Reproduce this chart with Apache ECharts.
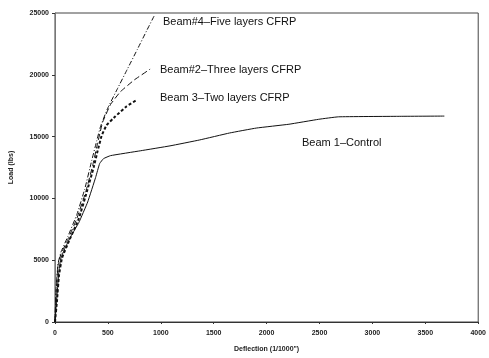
<!DOCTYPE html>
<html>
<head>
<meta charset="utf-8">
<script src="https://cdn.jsdelivr.net/npm/echarts@6/dist/echarts.min.js"></script>
<style>
  html, body { margin: 0; padding: 0; background: #fff; }
  #chart { width: 489px; height: 358px; }
</style>
</head>
<body>
<div id="chart"></div>
<script>
// deflection (1/1000") and load (lbs)
const beam1 = [
  [0, 0], [19, 2150], [37, 4140], [56, 5175], [94, 5970], [150, 6930],
  [225, 8040], [309, 9710], [384, 11700], [422, 12820], [459, 13220],
  [525, 13460], [806, 13850], [1087, 14250], [1368, 14730], [1649, 15290],
  [1902, 15690], [2211, 16000], [2492, 16400], [2679, 16600], [3241, 16640],
  [3680, 16660],
];
const beam3 = [
  [0, 0], [19, 1750], [37, 3740], [66, 5175], [131, 6530], [225, 8360],
  [300, 10510], [365, 12500], [403, 13850], [440, 15050], [487, 15920],
  [571, 16640], [675, 17440], [778, 17990],
];
const beam2 = [
  [0, 0], [9, 2150], [28, 4540], [56, 5490], [122, 6690], [206, 8360],
  [290, 10510], [356, 12660], [403, 14490], [450, 16160], [525, 17600],
  [618, 18630], [750, 19590], [899, 20460],
];
const beam4 = [
  [0, 0], [9, 2550], [28, 4700], [56, 5650], [122, 6930], [206, 8680],
  [281, 10750], [347, 13060], [394, 14650], [431, 15840], [497, 17280],
  [590, 18870], [684, 20460], [778, 22050], [871, 23650], [937, 24760],
];
const seriesNames = [
  "Beam 1\u2013Control",
  "Beam 3\u2013Two layers CFRP",
  "Beam#2\u2013Three layers CFRP",
  "Beam#4\u2013Five layers CFRP",
];

const chart = echarts.init(document.getElementById("chart"));

const tickFont = {
  fontFamily: "Liberation Sans",
  fontSize: 7,
  fontWeight: "bold",
  color: "#222",
};
const labelFont = {
  fontFamily: "Liberation Sans",
  fontSize: 11,
  fill: "#111",
};

const option = {
  animation: false,
  backgroundColor: "#fff",
  grid: {
    left: 54,
    right: 8,
    top: 13,
    bottom: 31,
    show: true,
    borderColor: "#444",
    borderWidth: 1,
  },
  xAxis: {
    type: "value",
    min: 0,
    max: 4000,
    interval: 500,
    name: "Deflection (1/1000\")",
    nameLocation: "middle",
    nameGap: 24,
    nameTextStyle: { ...tickFont },
    axisLine: { lineStyle: { color: "#333", width: 1 } },
    axisTick: { show: true, length: 2, lineStyle: { color: "#333" } },
    axisLabel: { ...tickFont, margin: 8, formatter: (v) => String(v) },
    splitLine: { show: false },
  },
  yAxis: {
    type: "value",
    min: 0,
    max: 25000,
    interval: 5000,
    name: "Load (lbs)",
    nameLocation: "middle",
    nameGap: 40,
    nameTextStyle: { ...tickFont },
    axisLine: { show: true, lineStyle: { color: "#777", width: 1 } },
    axisTick: { show: true, length: 3, lineStyle: { color: "#333" } },
    axisLabel: { ...tickFont, margin: 6, formatter: (v) => String(v) },
    splitLine: { show: false },
  },
  series: [
    {
      name: seriesNames[0],
      type: "line",
      data: beam1,
      smooth: 0.1,
      symbol: "none",
      lineStyle: { color: "#111", width: 1 },
    },
    {
      name: seriesNames[1],
      type: "line",
      data: beam3,
      smooth: 0.1,
      symbol: "none",
      lineStyle: { color: "#111", width: 2, type: [3, 2] },
    },
    {
      name: seriesNames[2],
      type: "line",
      data: beam2,
      smooth: 0.1,
      symbol: "none",
      lineStyle: { color: "#111", width: 1, type: [6, 3] },
    },
    {
      name: seriesNames[3],
      type: "line",
      data: beam4,
      smooth: 0.1,
      symbol: "none",
      lineStyle: { color: "#111", width: 1, type: [5, 2, 1, 2] },
    },
  ],
  graphic: [
    { type: "text", left: 163, top: 16, style: { text: seriesNames[3], ...labelFont } },
    { type: "text", left: 160, top: 64, style: { text: seriesNames[2], ...labelFont } },
    { type: "text", left: 160, top: 92, style: { text: seriesNames[1], ...labelFont } },
    { type: "text", left: 302, top: 137, style: { text: seriesNames[0], ...labelFont } },
  ],
};

chart.setOption(option);
</script>
</body>
</html>
